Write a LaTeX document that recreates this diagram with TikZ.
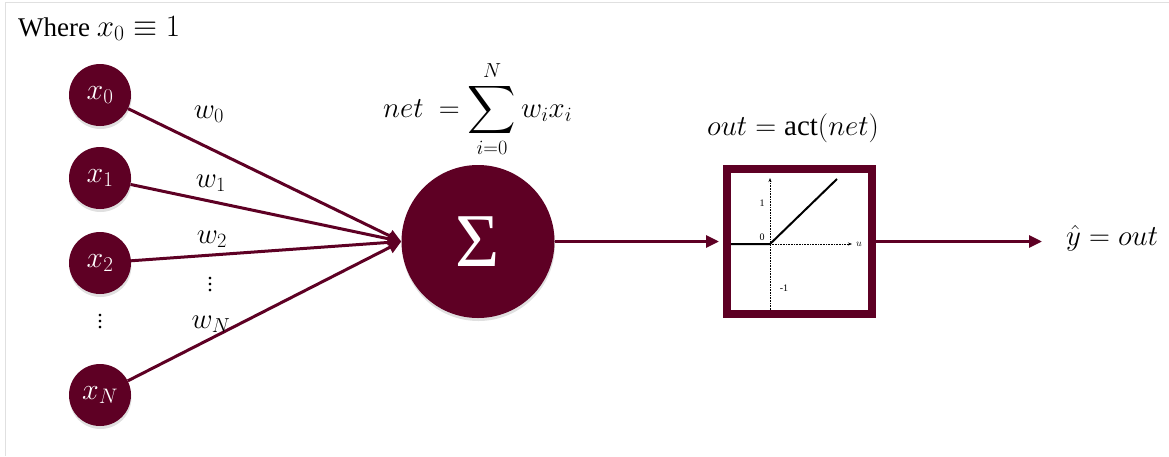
\RequirePackage{fix-cm}
\documentclass[tikz,border=0pt]{standalone}
\usepackage{fontspec}
\setmainfont{Liberation Serif}
\usepackage{amsmath}
\usepackage{graphicx}
\usetikzlibrary{arrows.meta,shadows}
\definecolor{maroon}{RGB}{94,0,36}
\newcommand\myvdots{\vbox{\fontsize{22}{22}\selectfont\baselineskip=6pt\lineskiplimit=-10pt\hbox{.}\hbox{.}\hbox{.}}}
\begin{document}
\begin{tikzpicture}[x=1pt,y=-1pt,
  shad/.style={drop shadow={shadow xshift=0.5pt,shadow yshift=-3pt,opacity=0.12,fill=black}},
  inp/.style={circle,fill=maroon,minimum size=62pt,inner sep=0pt,text=white,font=\fontsize{30}{36}\selectfont,shad},
  sumc/.style={circle,fill=maroon,minimum size=153pt,inner sep=0pt,text=white,shad},
  conn/.style={draw=maroon,line width=3pt},
  arr/.style={conn,-{Triangle[length=13pt,width=12pt]}},
  lab/.style={font=\fontsize{29}{34}\selectfont,inner sep=0pt},
  small/.style={font=\fontsize{10}{12}\selectfont,inner sep=0pt},
  actbox/.style={draw=maroon,line width=8pt,fill=white,minimum width=145pt,minimum height=145pt,inner sep=0pt,shad}
]
\useasboundingbox (0,0) rectangle (1169,456);
\fill[white] (0,0) rectangle (1169,456);
\draw[black!12,line width=1pt] (5,456) -- (5,2) -- (1169,2);

\node[font=\fontsize{27}{32}\selectfont,anchor=base west,inner sep=0pt] (where) at (18,36) {Where {\fontsize{31}{34}\selectfont$x_0 \equiv 1$}};

% inputs
\node[inp] (x0) at (100,95) {$x_0$};
\node[inp] (x1) at (100,178) {$x_1$};
\node[inp] (x2) at (100,263) {$x_2$};
\node[inp] (xN) at (100,395) {$x_N$};
\node[inner sep=0pt] (vd) at (100,322) {\myvdots};

% sum node
\node[sumc] (s) at (478,241.5) {\fontsize{76}{80}\selectfont Σ};

% connectors
\draw[arr] (x0) -- (s.west);
\draw[arr] (x1) -- (s.west);
\draw[arr] (x2) -- (s.west);
\draw[arr] (xN) -- (s.west);

% weights
\node[lab,anchor=base] (w0) at (209,118) {$w_0$};
\node[lab,anchor=base] (w1) at (211,187) {$w_1$};
\node[lab,anchor=base] (w2) at (212,243) {$w_2$};
\node[inner sep=0pt] (wd) at (210,285) {\myvdots};
\node[lab,anchor=base] (wN) at (211,328) {$w_N$};

% net formula
\node[lab,anchor=base west] (net) at (383,117) {$net\ = \displaystyle\mathop{\vcenter{\hbox{\scalebox{1.35}{$\displaystyle\sum$}}}}\limits_{i=0}^{N} w_i x_i$};

% activation
\node[lab,anchor=base] (outl) at (793,135) {$out = \text{act}(net)$};
\node[actbox] (act) at (799.5,241.5) {};
\draw[arr,shorten >=4pt] (s.east) -- (act.west);

% plot inside
\draw[densely dotted,line width=0.6pt,-{Stealth[length=4pt,width=3pt]}] (770,310) -- (770,178);
\draw[densely dotted,line width=0.6pt,-{Stealth[length=4pt,width=3pt]}] (770,244) -- (852,244);
\node[small,anchor=west] (u) at (856,244) {$u$};
\draw[line width=2pt,black] (731,244) -- (770,244) -- (837,179);
\node[small] (one) at (762,203) {1};
\node[small] (zero) at (762,237) {0};
\node[small] (mone) at (784,288) {-1};

% output
\coordinate (yend) at (1042,241.5);
\draw[arr] (act.east) -- (yend);
\node[lab,anchor=base west] (yhat) at (1066,245) {$\hat{y} = out$};
\end{tikzpicture}
\end{document}
